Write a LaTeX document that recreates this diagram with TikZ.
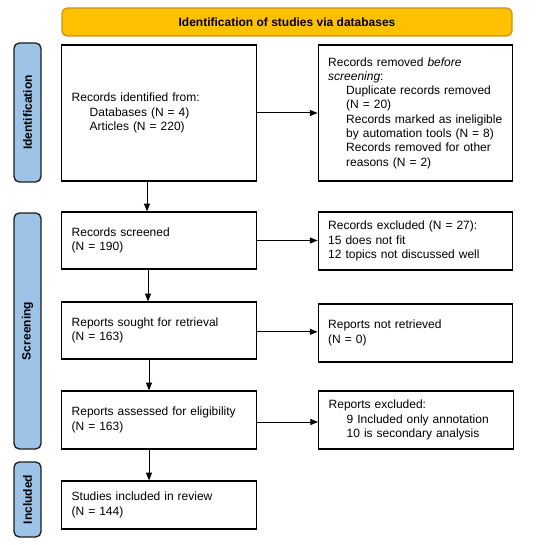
\documentclass[tikz,border=0pt]{standalone}
\usepackage{fontspec}
\setmainfont{Liberation Sans}
\usetikzlibrary{arrows.meta}
\definecolor{hdrfill}{RGB}{255,192,0}
\definecolor{hdrline}{RGB}{200,150,20}
\definecolor{sidefill}{RGB}{157,195,230}
\definecolor{sideline}{RGB}{30,30,30}
\newcommand{\ind}{\hspace*{13.5pt}}
\tikzset{every picture/.style={line width=0.75pt}}
\tikzset{
	flowbox/.style={draw, line width=0.9pt, inner xsep=7.5pt, inner ysep=0pt, text width=131pt, align=left, font=\fontsize{9}{10.7}\selectfont},
	phasebox/.style={draw=sideline, fill=sidefill, line width=1pt, rounded corners=4pt, rotate=90, minimum height=20.25pt, inner sep=0pt, font=\fontsize{9}{10.7}\selectfont\bfseries},
	flowarrow/.style={-{Triangle[length=5.8pt,width=4.5pt]}, line width=0.75pt}
}

\begin{document}
\begin{tikzpicture}[x=0.75pt,y=0.75pt,yscale=-1,xscale=1]
	\useasboundingbox (0,0) rectangle (550,545);
	
	% Header
	\node [draw=hdrline, fill=hdrfill, line width=1pt, rounded corners=4pt, minimum width=337.5pt, minimum height=21pt, inner sep=0pt, font=\fontsize{9}{10.7}\selectfont\bfseries] (header) at (287,22) {Identification of studies via databases};
	
	% Phase labels
	\node [phasebox, minimum width=104.25pt] (phaseid) at (27.5,112.5) {Identification};
	\node [phasebox, minimum width=177pt] (phasescr) at (27.5,331) {Screening};
	\node [phasebox, minimum width=56.25pt] (phaseinc) at (27.5,499.5) {Included};
	
	% Left column
	\node [flowbox, minimum height=102pt] (identified) at (159,113) {Records identified from:\\ \ind Databases (N = 4)\\ \ind Articles (N = 220)};
	\node [flowbox, minimum height=42.75pt] (screened) at (159,240.5) {Records screened\\(N = 190)};
	\node [flowbox, minimum height=42.75pt] (sought) at (159,330.5) {Reports sought for retrieval\\(N = 163)};
	\node [flowbox, minimum height=43.5pt] (assessed) at (159,420) {Reports assessed for eligibility\\(N = 163)};
	\node [flowbox, minimum height=36pt] (included) at (159,505) {Studies included in review\\(N = 144)};
	
	% Right column
	\node [flowbox, minimum height=102pt] (removed) at (415.5,113) {Records removed \emph{before}\\\emph{screening}:\\ \ind Duplicate records removed\\ \ind (N = 20)\\ \ind Records marked as ineligible\\ \ind by automation tools (N = 8)\\ \ind Records removed for other\\ \ind reasons (N = 2)};
	\node [flowbox, minimum height=43.5pt] (excluded) at (415.5,241) {Records excluded (N = 27):\\15 does not fit\\12 topics not discussed well};
	\node [flowbox, minimum height=43.5pt] (notretrieved) at (415.5,333) {Reports not retrieved\\(N = 0)};
	\node [flowbox, minimum height=43.5pt] (reportsexcl) at (416,420) {Reports excluded:\\ \ind 9 Included only annotation\\ \ind 10 is secondary analysis};
	
	% Vertical arrows
	\draw [flowarrow] ([xshift=-9pt]identified.south) -- ([xshift=-9pt]screened.north);
	\draw [flowarrow] ([xshift=-8.25pt]screened.south) -- ([xshift=-8.25pt]sought.north);
	\draw [flowarrow] ([xshift=-7.5pt]sought.south) -- ([xshift=-7.5pt]assessed.north);
	\draw [flowarrow] ([xshift=-7.5pt]assessed.south) -- ([xshift=-7.5pt]included.north);
	
	% Horizontal arrows
	\draw [flowarrow] (identified.east) -- (identified.east -| removed.west);
	\draw [flowarrow] (screened.east) -- (screened.east -| excluded.west);
	\draw [flowarrow] ([yshift=1pt]sought.east) -- ([yshift=1pt]sought.east -| notretrieved.west);
	\draw [flowarrow] ([yshift=1.5pt]assessed.east) -- ([yshift=1.5pt]assessed.east -| reportsexcl.west);
	
\end{tikzpicture}
\end{document}
